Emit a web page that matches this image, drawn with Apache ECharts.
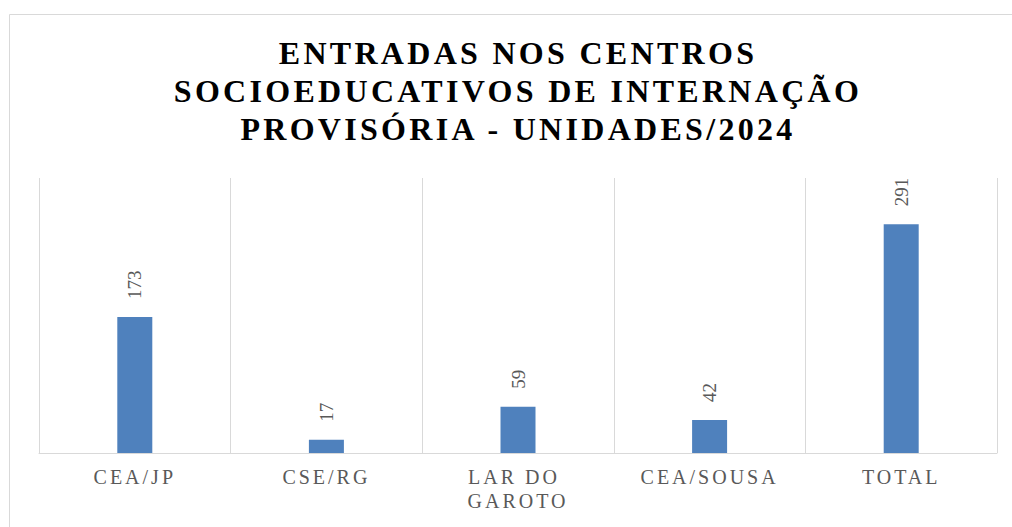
<!DOCTYPE html>
<html>
<head>
<meta charset="utf-8">
<script src="https://cdn.jsdelivr.net/npm/echarts@6/dist/echarts.min.js"></script>
<style>
  html, body { margin: 0; padding: 0; background: #fff; }
  #chart { width: 1012px; height: 527px; }
  /* letter spacing for title and category labels */
  #chart svg text[style*="32px"] { letter-spacing: 3.3px; }
  #chart svg text[style*="20px"] { letter-spacing: 3px; }
</style>
</head>
<body>
<div id="chart"></div>
<script>
const titleText = "ENTRADAS NOS CENTROS\nSOCIOEDUCATIVOS DE INTERNAÇÃO\nPROVISÓRIA - UNIDADES/2024";
const categories = ["CEA/JP", "CSE/RG", "LAR DO GAROTO", "CEA/SOUSA", "TOTAL"];
const values = [173, 17, 59, 42, 291];

const chartDom = document.getElementById("chart");
const myChart = echarts.init(chartDom, null, { renderer: "svg" });

const option = {
	animation: false,
	title: {
		text: titleText,
		left: 513,
		top: 29,
		textAlign: "center",
		textStyle: {
			fontFamily: "Liberation Serif",
			fontSize: 32,
			fontWeight: "bold",
			color: "#000",
			lineHeight: 38,
		},
	},
	graphic: [
		{
			type: "rect",
			shape: { x: 9.5, y: 14.5, width: 1030, height: 540 },
			style: { fill: "none", stroke: "#d9d9d9", lineWidth: 1 },
			silent: true,
		},
	],
	grid: {
		left: 39,
		right: 15,
		top: 178,
		bottom: 74,
	},
	xAxis: {
		type: "category",
		data: categories,
		axisLine: { lineStyle: { color: "#d9d9d9", width: 1 } },
		axisTick: { show: false },
		splitLine: { show: true, lineStyle: { color: "#d9d9d9", width: 1 } },
		axisLabel: {
			interval: 0,
			margin: 12,
			width: 120,
			overflow: "break",
			fontFamily: "Liberation Serif",
			fontSize: 20,
			lineHeight: 24,
			color: "#595959",
		},
	},
	yAxis: {
		type: "value",
		min: 0,
		max: 350,
		show: false,
		splitLine: { show: false },
	},
	series: [
		{
			type: "bar",
			data: values,
			barWidth: 35,
			itemStyle: { color: "#4f81bd" },
			label: {
				show: true,
				position: "top",
				rotate: 90,
				align: "left",
				verticalAlign: "middle",
				distance: 18,
				fontFamily: "Liberation Serif",
				fontSize: 19,
				color: "#595959",
			},
		},
	],
};

myChart.setOption(option);
</script>
</body>
</html>
